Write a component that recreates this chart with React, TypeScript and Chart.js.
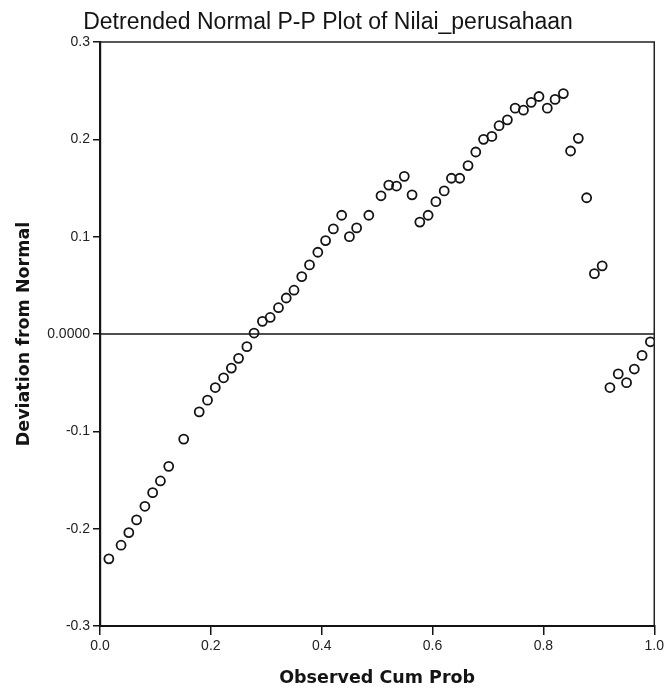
import React, { useEffect, useRef } from "react";
import { Chart, registerables } from "chart.js";

Chart.register(...registerables);

// ---- Data ----
const chartTitle = "Detrended Normal P-P Plot of Nilai_perusahaan";
const xAxisTitle = "Observed Cum Prob";
const yAxisTitle = "Deviation from Normal";

const observedCumProb = [
  0.016, 0.038, 0.052, 0.066, 0.081, 0.095, 0.109, 0.124, 0.151, 0.179,
  0.194, 0.208, 0.223, 0.237, 0.250, 0.265, 0.278, 0.293, 0.307, 0.322,
  0.336, 0.350, 0.364, 0.378, 0.393, 0.407, 0.421, 0.436, 0.450, 0.463,
  0.485, 0.507, 0.521, 0.535, 0.549, 0.563, 0.577, 0.592, 0.606, 0.621,
  0.634, 0.649, 0.664, 0.678, 0.692, 0.707, 0.720, 0.735, 0.749, 0.764,
  0.778, 0.792, 0.807, 0.821, 0.836, 0.849, 0.863, 0.878, 0.892, 0.906,
  0.920, 0.935, 0.950, 0.964, 0.978, 0.993,
];

const deviationFromNormal = [
  -0.231, -0.217, -0.204, -0.191, -0.177, -0.163, -0.151, -0.136, -0.108, -0.080,
  -0.068, -0.055, -0.045, -0.035, -0.025, -0.013, 0.001, 0.013, 0.017, 0.027,
  0.037, 0.045, 0.059, 0.071, 0.084, 0.096, 0.108, 0.122, 0.100, 0.109,
  0.122, 0.142, 0.153, 0.152, 0.162, 0.143, 0.115, 0.122, 0.136, 0.147,
  0.160, 0.160, 0.173, 0.187, 0.200, 0.203, 0.214, 0.220, 0.232, 0.230,
  0.238, 0.244, 0.232, 0.241, 0.247, 0.188, 0.201, 0.140, 0.062, 0.070,
  -0.055, -0.041, -0.050, -0.036, -0.022, -0.008,
];

const referenceLineX = [0, 1];
const referenceLineY = [0, 0];

const xMin = 0;
const xMax = 1;
const xStep = 0.2;
const yMin = -0.3;
const yMax = 0.3;
const yStep = 0.1;

const INK = "#141414";

const frameBorderPlugin = {
  id: "frameBorder",
  afterDraw(chart: any) {
    const { ctx, chartArea } = chart;
    ctx.save();
    ctx.strokeStyle = "#222";
    ctx.lineWidth = 1.5;
    ctx.beginPath();
    ctx.moveTo(chartArea.left, chartArea.top);
    ctx.lineTo(chartArea.right, chartArea.top);
    ctx.lineTo(chartArea.right, chartArea.bottom);
    ctx.stroke();
    ctx.restore();
  },
};

export default function App() {
  const canvasRef = useRef<HTMLCanvasElement | null>(null);

  useEffect(() => {
    if (!canvasRef.current) return;
    const points = observedCumProb.map((x, i) => ({ x, y: deviationFromNormal[i] }));
    const refPoints = referenceLineX.map((x, i) => ({ x, y: referenceLineY[i] }));

    const chart = new Chart(canvasRef.current, {
      type: "scatter",
      data: {
        datasets: [
          {
            type: "line",
            data: refPoints,
            borderColor: INK,
            borderWidth: 1.6,
            pointRadius: 0,
            showLine: true,
            fill: false,
          } as any,
          {
            data: points,
            pointStyle: "circle",
            pointRadius: 4.5,
            pointBorderWidth: 1.8,
            borderColor: INK,
            backgroundColor: "rgba(0,0,0,0)",
            pointBackgroundColor: "rgba(0,0,0,0)",
            pointBorderColor: INK,
          } as any,
        ],
      },
      options: {
        responsive: false,
        animation: false,
        events: [],
        layout: { padding: { left: 0, right: 11, top: 0, bottom: 0 } },
        plugins: {
          legend: { display: false },
          tooltip: { enabled: false },
          title: {
            display: true,
            text: chartTitle,
            color: INK,
            font: { family: "'Liberation Sans', Arial, sans-serif", size: 23, weight: "normal", lineHeight: 1.2 },
            padding: { top: 9, bottom: 5.4 },
          },
        },
        scales: {
          x: {
            type: "linear",
            min: xMin,
            max: xMax,
            afterFit: (scale: any) => {
              scale.height = 65;
            },
            ticks: {
              stepSize: xStep,
              color: "#222",
              padding: 3,
              font: { family: "'Liberation Sans', Arial, sans-serif", size: 14 },
              callback: (v: any) => Number(v).toFixed(1),
            },
            grid: {
              drawOnChartArea: false,
              drawTicks: true,
              tickLength: 9,
              color: INK,
              lineWidth: 1.5,
            },
            border: { display: true, color: INK, width: 2 },
            title: {
              display: true,
              text: xAxisTitle,
              color: INK,
              font: { family: "'DejaVu Sans', sans-serif", size: 17.5, weight: "bold", lineHeight: 1.2 },
              padding: { top: 2, bottom: 2.5 },
            },
          },
          y: {
            type: "linear",
            min: yMin,
            max: yMax,
            afterFit: (scale: any) => {
              scale.width = 100;
            },
            ticks: {
              stepSize: yStep,
              color: "#222",
              padding: 3,
              font: { family: "'Liberation Sans', Arial, sans-serif", size: 14 },
              callback: (v: any) => {
                const n = Math.round(Number(v) * 10) / 10;
                return n === 0 ? "0.0000" : n.toFixed(1);
              },
            },
            grid: {
              drawOnChartArea: false,
              drawTicks: true,
              tickLength: 7,
              color: INK,
              lineWidth: 1.5,
            },
            border: { display: true, color: INK, width: 2.2 },
            title: {
              display: true,
              text: yAxisTitle,
              color: INK,
              font: { family: "'DejaVu Sans', sans-serif", size: 17.5, weight: "bold", lineHeight: 1.2 },
              padding: { top: 13.5, bottom: 2 },
            },
          },
        },
      },
      plugins: [frameBorderPlugin],
    });

    return () => chart.destroy();
  }, []);

  return (
    <div style={{ position: "absolute", left: 0, top: 0, width: 667, height: 691, background: "#ffffff" }}>
      <canvas ref={canvasRef} width={667} height={691} style={{ display: "block", width: 667, height: 691 }} />
    </div>
  );
}
